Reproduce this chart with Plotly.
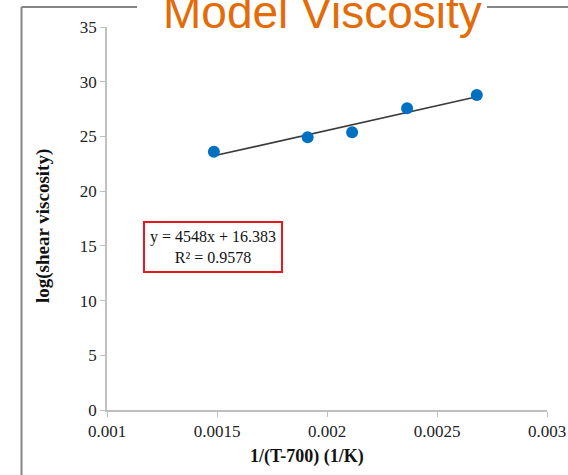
import numpy as np
import plotly.graph_objects as go

# Data
inv_temp = [1/673, 1/523, 1/473, 1/423, 1/373]       # 1/(T-700) (1/K)
log_visc = [23.6, 24.92, 25.38, 27.57, 28.79]        # log(shear viscosity)
x_ticks = [0.001, 0.0015, 0.002, 0.0025, 0.003]
x_tick_labels = ["0.001", "0.0015", "0.002", "0.0025", "0.003"]
y_ticks = [0, 5, 10, 15, 20, 25, 30, 35]

# linear trendline from data
slope, intercept = np.polyfit(inv_temp, log_visc, 1)
trend_x = [min(inv_temp), max(inv_temp)]
trend_y = [slope * v + intercept for v in trend_x]

W, H = 568, 475
L, R, T, B = 107, 21, 27, 65
pw, ph = W - L - R, H - T - B

def px(x):
    return (x - L) / pw

def py(y):
    return (H - B - y) / ph

fig = go.Figure()
fig.add_trace(go.Scatter(x=trend_x, y=trend_y, mode="lines",
                         line=dict(color="#3a3a3a", width=1.6),
                         hoverinfo="skip", showlegend=False))
fig.add_trace(go.Scatter(x=inv_temp, y=log_visc, mode="markers",
                         marker=dict(color="#0070C0", size=12),
                         showlegend=False))

serif = "Liberation Serif, Times New Roman, serif"
axis_common = dict(showline=True, linecolor="#BFBFBF", linewidth=1.5,
                   ticks="outside", ticklen=5, tickcolor="#BFBFBF",
                   showgrid=False, zeroline=False, automargin=False,
                   tickfont=dict(family=serif, size=17, color="#222"))
fig.update_xaxes(range=[0.001, 0.003], tickvals=x_ticks, ticktext=x_tick_labels,
                 **axis_common)
fig.update_yaxes(range=[0, 35], tickvals=y_ticks, **axis_common)

shapes = []
frame = dict(color="#858585", width=2)
shapes.append(dict(type="line", xref="paper", yref="paper",
                   x0=px(21.5), x1=px(21.5), y0=py(7), y1=py(480), line=frame))
shapes.append(dict(type="line", xref="paper", yref="paper",
                   x0=px(21.5), x1=px(137), y0=py(7), y1=py(7), line=frame))
shapes.append(dict(type="line", xref="paper", yref="paper",
                   x0=px(487), x1=px(572), y0=py(7), y1=py(7), line=frame))
shapes.append(dict(type="rect", xref="paper", yref="paper",
                   x0=px(144), x1=px(282), y0=py(222), y1=py(272),
                   line=dict(color="#E8191C", width=2)))

annotations = [
    dict(text="Model Viscosity", x=px(322.5), y=py(11.5), xref="paper", yref="paper",
         xanchor="center", yanchor="middle", showarrow=False,
         font=dict(family="Liberation Sans, Arial, sans-serif", size=46, color="#E36C09")),
    dict(text="y = 4548x + 16.383<br>R² = 0.9578", x=px(213), y=py(247),
         xref="paper", yref="paper", xanchor="center", yanchor="middle", showarrow=False,
         font=dict(family=serif, size=16, color="#111")),
    dict(text="<b>log(shear viscosity)</b>", x=px(43), y=py(226), xref="paper", yref="paper",
         xanchor="center", yanchor="middle", showarrow=False, textangle=-90,
         font=dict(family=serif, size=19, color="#111")),
    dict(text="<b>1/(T-700) (1/K)</b>", x=px(307), y=py(456), xref="paper", yref="paper",
         xanchor="center", yanchor="middle", showarrow=False,
         font=dict(family=serif, size=18, color="#111")),
]

fig.update_layout(width=W, height=H, margin=dict(l=L, r=R, t=T, b=B),
                  paper_bgcolor="white", plot_bgcolor="white",
                  shapes=shapes, annotations=annotations, showlegend=False)

fig.write_html("out.html")
